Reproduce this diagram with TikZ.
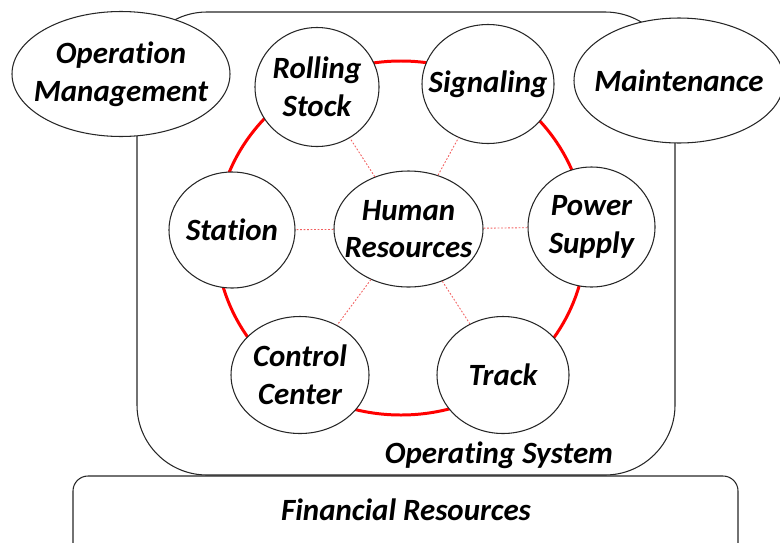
\documentclass[tikz,border=0pt]{standalone}
\usepackage{fontspec}
\setmainfont{Carlito}[Ligatures=NoCommon]
\usetikzlibrary{shapes.geometric}
\definecolor{ringred}{HTML}{FF0000}
\definecolor{edgegray}{HTML}{262626}
\definecolor{linkred}{HTML}{F26060}

\begin{document}
\begin{tikzpicture}[
    part/.style={ellipse, draw=edgegray, fill=white,
                 inner xsep=-12pt, inner ysep=-4pt,
                 line width=0.6pt, align=center,
                 font=\fontsize{17.6}{21.5}\selectfont\bfseries\itshape},
    sysbox/.style={draw=edgegray, line width=0.6pt},
    ring/.style={ellipse, draw=ringred, line width=1.7pt, inner sep=0pt},
    link/.style={linkred, line width=0.5pt, dash pattern=on 1pt off 1pt},
    boxtext/.style={font=\fontsize{17.6}{21.5}\selectfont\bfseries\itshape,
                    anchor=base}
  ]
    \useasboundingbox (0,0) rectangle (15.6,10.84);

    %% Financial resources band, cut off at the bottom
    \begin{scope}
      \clip (0,0) rectangle (15.6,10.84);
      \draw[sysbox, rounded corners=0.3cm] (1.46,-0.6) rectangle (14.76,1.32);
    \end{scope}
    \node[boxtext] (fin) at (8.12,0.44) {Financial Resources};

    %% Operating system frame
    \draw[sysbox, rounded corners=1.4cm] (2.74,1.34) rectangle (13.5,10.6);
    \node[boxtext] (os) at (9.98,1.58) {Operating System};

    %% Outside parts
    \node[part, minimum width=4.36cm, minimum height=2.5cm] (om) at (2.42,9.36)
        {Operation\\Management};
    \node[part, minimum width=4.2cm, minimum height=2.5cm] (mt) at (13.58,9.23)
        {Maintenance};

    %% Ring of subsystems
    \node[ring, minimum width=7.4cm, minimum height=7.08cm] (ring) at (8.02,6.08) {};
    \node[part, minimum width=2.48cm, minimum height=2.38cm] (rs) at (6.34,9.1)
        {Rolling\\Stock};
    \node[part, minimum width=2.64cm, minimum height=2.38cm] (sg) at (9.76,9.16)
        {Signaling};
    \node[part, minimum width=2.52cm, minimum height=2.32cm] (st) at (4.64,6.24)
        {Station};
    \node[part, minimum width=2.54cm, minimum height=2.4cm] (ps) at (11.83,6.3)
        {Power\\Supply};
    \node[part, minimum width=2.76cm, minimum height=2.34cm] (cc) at (6.0,3.34)
        {Control\\Center};
    \node[part, minimum width=2.64cm, minimum height=2.34cm] (tr) at (10.06,3.34)
        {Track};
    \node[part, minimum width=2.98cm, minimum height=2.32cm] (hr) at (8.17,6.26)
        {Human\\Resources};

    %% Links to the hub
    \foreach \n in {rs, sg, st, ps, cc, tr}
      \draw[link] (hr) -- (\n);
  \end{tikzpicture}
\end{document}
